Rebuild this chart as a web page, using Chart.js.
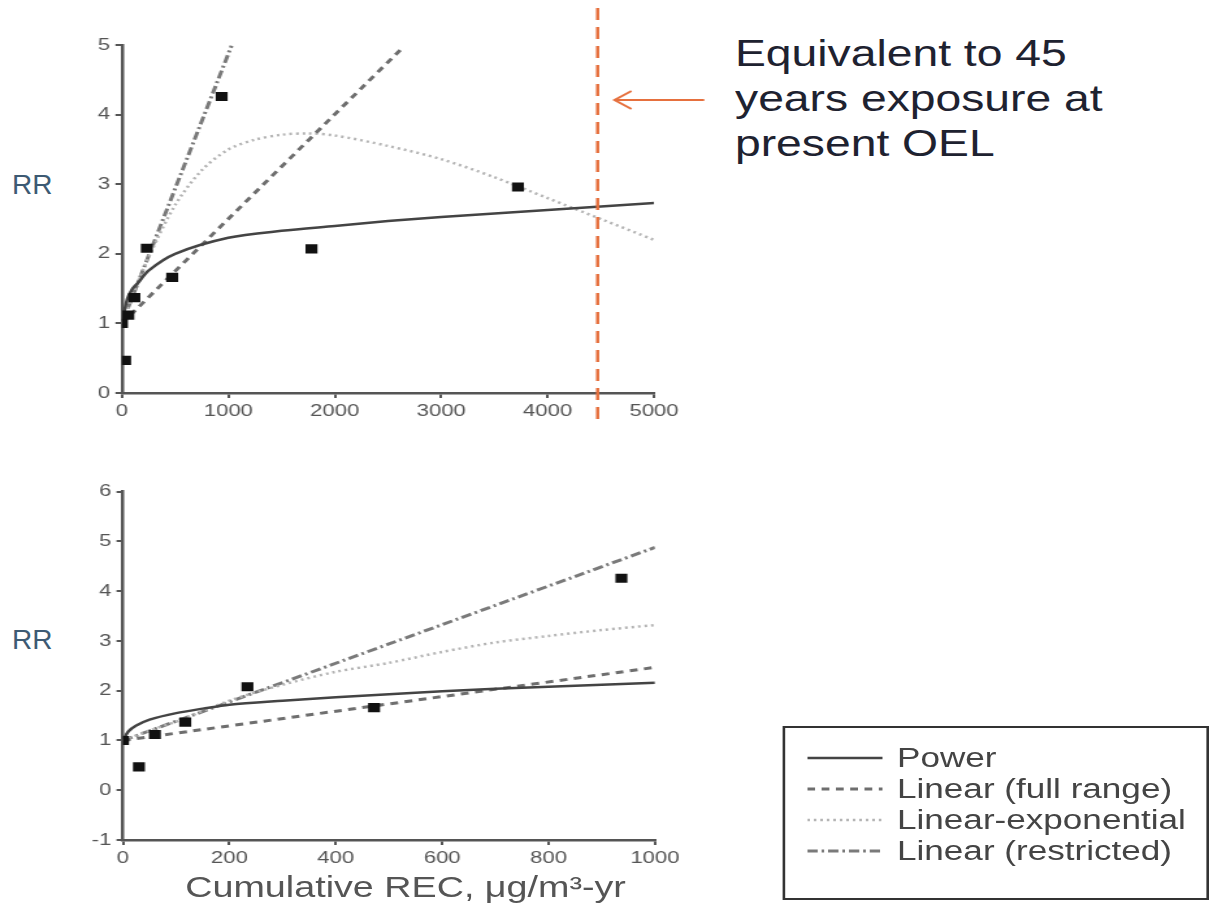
<!DOCTYPE html>
<html>
<head>
<meta charset="utf-8">
<script src="https://cdn.jsdelivr.net/npm/chart.js@4.4.0/dist/chart.umd.min.js"></script>
<style>
  html, body { margin: 0; padding: 0; background: #fff; width: 1213px; height: 913px; overflow: hidden; font-family: "Liberation Sans", Arial, sans-serif; }
  /* the figure in the source is stretched sideways, so is this one */
  #fig { position: absolute; left: 0; top: 0; width: 933px; height: 913px; transform: scaleX(1.3); transform-origin: 0 0; }
  #top-canvas { position: absolute; left: 0; top: 0; }
  #bottom-canvas { position: absolute; left: 0; top: 440px; }
  #xtitle { position: absolute; left: 62px; width: 500px; top: 871px; text-align: center; font-size: 29px; line-height: 32px; color: #555; }
  #legend { position: absolute; left: 602px; top: 726px; width: 324px; height: 170px; border: 2px solid #333; }
  .row { position: absolute; left: 0; width: 320px; height: 30px; font-size: 27px; line-height: 30px; color: #444; }
  .row svg { position: absolute; left: 17px; top: 10px; }
  .row span { position: absolute; left: 86px; white-space: nowrap; }
  .rr { position: absolute; left: 12px; font-size: 28px; line-height: 32px; color: #3d5a73; }
  #note { position: absolute; left: 735px; top: 31px; font-size: 37px; line-height: 45px; color: #1e2230; transform: scaleX(1.25); transform-origin: 0 0; white-space: nowrap; }
</style>
</head>
<body>
<div class="rr" style="top:169px">RR</div>
<div class="rr" style="top:624px">RR</div>
<div id="note">Equivalent to 45<br>years exposure at<br>present OEL</div>

<div id="fig">
  <canvas id="top-canvas" width="560" height="440"></canvas>
  <canvas id="bottom-canvas" width="560" height="473"></canvas>
  <div id="xtitle">Cumulative REC, μg/m³-yr</div>
  <div id="legend"></div>
</div>

<script>
// measured RR points (same data in both panels)
var pointX = [0, 30, 60, 117, 234, 472, 937, 1781, 3721];
var pointY = [1.0, 0.47, 1.12, 1.37, 2.08, 1.66, 4.26, 2.07, 2.96];

// top panel fitted curves, 0 - 5000
var topPowerX = [0, 50, 100, 150, 250, 500, 1000, 1500, 2000, 2500, 3000, 3500, 4000, 4500, 5000];
var topPower = [1.0, 1.35, 1.5, 1.58, 1.76, 2.0, 2.23, 2.33, 2.4, 2.47, 2.53, 2.58, 2.63, 2.68, 2.73];
var topFullX = [0, 2650];
var topFull = [1.0, 4.98];
var topLinExpX = [0, 100, 250, 500, 750, 1000, 1250, 1500, 1750, 2000, 2500, 3000, 3500, 4000, 4500, 5000];
var topLinExp = [1.0, 1.4, 1.95, 2.7, 3.2, 3.5, 3.64, 3.71, 3.73, 3.7, 3.55, 3.36, 3.1, 2.8, 2.5, 2.2];
var topRestrX = [0, 1030];
var topRestr = [1.0, 4.99];

// bottom panel fitted curves, 0 - 1000
var botPowerX = [0, 10, 25, 50, 100, 150, 200, 300, 400, 500, 600, 700, 800, 900, 1000];
var botPower = [1.0, 1.18, 1.3, 1.42, 1.55, 1.64, 1.72, 1.8, 1.87, 1.93, 1.99, 2.04, 2.08, 2.12, 2.16];
var botFullX = [0, 1000];
var botFull = [1.0, 2.47];
var botLinExpX = [0, 50, 100, 200, 300, 400, 500, 600, 700, 800, 900, 1000];
var botLinExp = [1.0, 1.2, 1.38, 1.8, 2.12, 2.38, 2.56, 2.78, 2.97, 3.1, 3.22, 3.32];
var botRestrX = [0, 1000];
var botRestr = [1.0, 4.88];

var seriesNames = ["Power", "Linear (full range)", "Linear-exponential", "Linear (restricted)"];
var oelX = 4470; // 45 years at present OEL

// line look per series, same order as seriesNames
var seriesStyle = [
  { color: "#444", width: 2.5, dash: [] },
  { color: "#6e6e6e", width: 3, dash: [6, 5] },
  { color: "#b4b4b4", width: 2.5, dash: [2, 3] },
  { color: "#7a7a7a", width: 3, dash: [8, 3, 2, 3] }
];

function pairs(xs, ys) {
  return xs.map((x, i) => ({ x: x, y: ys[i] }));
}

function curve(i, xs, ys) {
  return {
    label: seriesNames[i],
    data: pairs(xs, ys),
    showLine: true,
    pointRadius: 0,
    borderColor: seriesStyle[i].color,
    borderWidth: seriesStyle[i].width,
    borderDash: seriesStyle[i].dash,
    tension: 0.3
  };
}

const tickFont = { family: '"Liberation Sans", Arial, sans-serif', size: 17 };

function settings(curves, xMax, xStep, yMin, yMax, axisW, axisH) {
  return {
    type: 'scatter',
    data: {
      datasets: [{
        label: 'RR',
        data: pairs(pointX, pointY),
        pointStyle: 'rect',
        pointRadius: 6.5,
        backgroundColor: '#111',
        borderColor: '#111',
        borderWidth: 0
      }].concat(curves)
    },
    options: {
      responsive: false,
      animation: false,
      devicePixelRatio: 1,
      layout: { padding: { left: 0, top: axisH.top, right: axisW.right, bottom: 0 } },
      plugins: { legend: { display: false }, tooltip: { enabled: false } },
      scales: {
        x: {
          type: 'linear', min: 0, max: xMax,
          ticks: { stepSize: xStep, color: '#555', font: tickFont, padding: 3, autoSkip: false, callback: v => String(v) },
          grid: { display: true, drawOnChartArea: false, drawTicks: true, tickLength: 5, color: '#555', lineWidth: 2 },
          border: { color: '#555', width: 2.5 },
          afterFit: s => { s.height = axisH.bottom; }
        },
        y: {
          type: 'linear', min: yMin, max: yMax,
          ticks: { stepSize: 1, color: '#555', font: tickFont, padding: 4, callback: v => String(v) },
          grid: { display: true, drawOnChartArea: false, drawTicks: true, tickLength: 5, color: '#555', lineWidth: 2 },
          border: { color: '#555', width: 2.5 },
          afterFit: s => { s.width = axisW.left; }
        }
      }
    }
  };
}

// orange OEL marker with arrow, top panel only
const oelMarker = {
  id: 'oel',
  afterDatasetsDraw(chart) {
    const ctx = chart.ctx;
    const x = chart.scales.x.getPixelForValue(oelX);
    ctx.save();
    ctx.strokeStyle = '#e6703e';
    ctx.lineWidth = 2.5;
    ctx.setLineDash([12, 7]);
    ctx.beginPath();
    ctx.moveTo(x, 8);
    ctx.lineTo(x, 420);
    ctx.stroke();
    ctx.setLineDash([]);
    ctx.lineWidth = 2;
    const tip = x + 13, tail = x + 82, ay = 100;
    ctx.beginPath();
    ctx.moveTo(tail, ay);
    ctx.lineTo(tip, ay);
    ctx.moveTo(tip + 13, ay - 9);
    ctx.lineTo(tip, ay);
    ctx.lineTo(tip + 13, ay + 9);
    ctx.stroke();
    ctx.restore();
  }
};

var topCfg = settings([
  curve(0, topPowerX, topPower),
  curve(1, topFullX, topFull),
  curve(2, topLinExpX, topLinExp),
  curve(3, topRestrX, topRestr)
], 5000, 1000, 0, 5, { left: 93.8, right: 56.9 }, { top: 45, bottom: 47 });
topCfg.plugins = [oelMarker];
new Chart(document.getElementById('top-canvas'), topCfg);

new Chart(document.getElementById('bottom-canvas'), settings([
  curve(0, botPowerX, botPower),
  curve(1, botFullX, botFull),
  curve(2, botLinExpX, botLinExp),
  curve(3, botRestrX, botRestr)
], 1000, 200, -1, 6, { left: 94.6, right: 56.2 }, { top: 51.7, bottom: 73 }));

// legend box
var legend = document.getElementById('legend');
seriesNames.forEach((name, i) => {
  var st = seriesStyle[i];
  var row = document.createElement('div');
  row.className = 'row';
  row.style.top = (15 + i * 31) + 'px';
  row.innerHTML = '<svg width="58" height="10"><line x1="0" y1="5" x2="58" y2="5" stroke="' + st.color +
    '" stroke-width="' + st.width + '" stroke-dasharray="' + (st.dash.length ? st.dash.join(' ') : 'none') + '"/></svg>' +
    '<span>' + name + '</span>';
  legend.appendChild(row);
});
</script>
</body>
</html>
